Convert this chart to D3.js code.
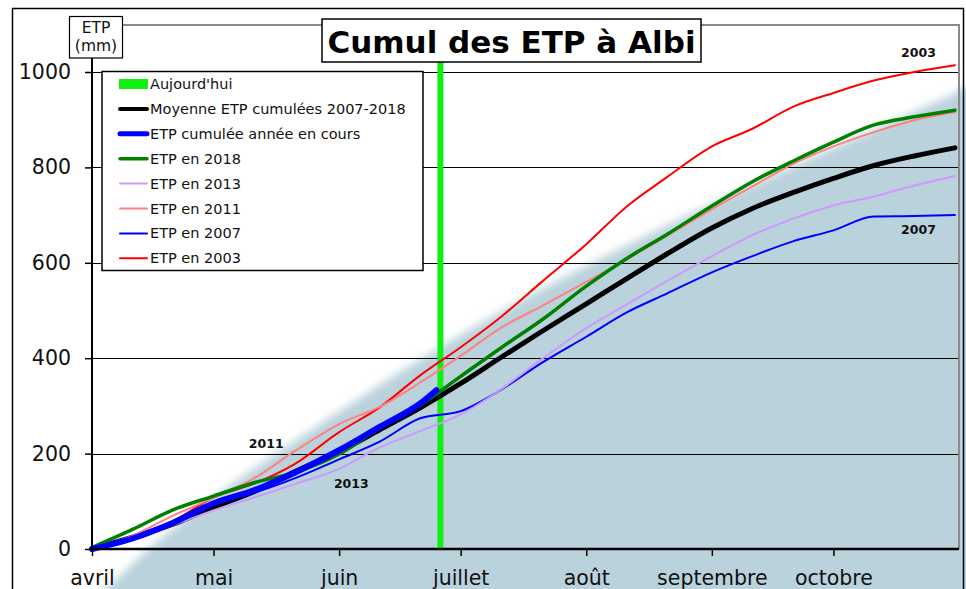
<!DOCTYPE html>
<html><head><meta charset="utf-8">
<script src="https://cdn.jsdelivr.net/npm/d3@7"></script>
<style>
body{margin:0;background:#fff}
svg{display:block;font-family:"DejaVu Sans",Verdana,sans-serif}
</style>
</head><body>
<svg id="c" width="966" height="589"></svg>
<script>
// ---------- data ----------
const dates = ["04-01","04-11","04-21","05-01","05-11","05-21","06-01","06-11","06-21","07-01","07-11",
               "07-21","08-01","08-11","08-21","09-01","09-11","09-21","10-01","10-11","10-21","10-31"];
const moyenne  = [0,25,52,88,120,162,204,250,296,347,402,456,514,567,619,673,714,747,777,804,824,841];
const etp2018  = [3,41,82,111,139,160,199,254,302,362,422,480,551,609,660,719,770,813,853,889,906,920];
const etp2013  = [0,20,50,81,108,136,168,213,247,282,335,398,463,513,562,614,658,692,720,739,762,782];
const etp2011  = [0,28,70,107,148,205,262,298,349,405,464,509,560,607,657,712,760,807,844,874,899,916];
const etp2007  = [0,27,58,97,118,148,188,225,274,289,334,390,445,496,536,580,614,645,668,697,698,700];
const etp2003  = [0,20,58,108,137,178,245,297,364,423,487,560,639,718,780,844,881,927,956,982,1000,1014];
const courDates = ["04-01","04-11","04-21","05-01","05-11","05-21","06-01","06-11","06-21","06-25"];
const courante = [0,22,55,96,123,160,207,256,305,333];
const aujourdhui = "06-26";

const monthTicks  = ["04-01","05-01","06-01","07-01","08-01","09-01","10-01"];
const monthLabels = ["avril","mai","juin","juillet","août","septembre","octobre"];
const yTicks = [0,200,400,600,800,1000];

const legendLabels = ["Aujourd'hui","Moyenne ETP cumulées 2007-2018","ETP cumulée année en cours",
  "ETP en 2018","ETP en 2013","ETP en 2011","ETP en 2007","ETP en 2003"];

const annotLabels = ["2003","2007","2011","2013"];
const annotDates  = ["10-22","10-22","05-14","06-04"];
const annotValues = [1031,660,212,128];

// decorative background envelope (date, value)
const backDates  = ["03-28","04-03","04-15","05-30","07-06","08-17","09-26","11-03","11-12"];
const backValues = [-125,-92,0,277,474,662,822,966,1000];

// ---------- styles ----------
const st = {
  moyenne:{color:"#000000",w:5},
  courante:{color:"#0000ff",w:6},
  e2018:{color:"#008000",w:3.5},
  e2013:{color:"#cc99ff",w:2},
  e2011:{color:"#ff8080",w:2},
  e2007:{color:"#0000ff",w:2},
  e2003:{color:"#ff0000",w:2},
  today:"#10f010",
  back:"#bad2dc"
};

// ---------- scales ----------
const P = d => d3.timeParse("%Y-%m-%d")("2019-" + d);
const x = d3.scaleTime().domain([P("04-01"), P("11-01")]).range([92, 959]);
const y = d3.scaleLinear().domain([0, 1100]).range([549, 24.3]);

const svg = d3.select("#c");
const defs = svg.append("defs");
const f = defs.append("filter").attr("id","blur").attr("filterUnits","userSpaceOnUse")
  .attr("x",-100).attr("y",-100).attr("width",1200).attr("height",900);
f.append("feGaussianBlur").attr("stdDeviation",4);

// background
const backPts = backDates.map((d,i)=>({d:P(d),v:backValues[i]}));
svg.append("path").datum(backPts)
  .attr("d", d3.area().x(p=>x(p.d)).y0(y(-200)).y1(p=>y(p.v)).curve(d3.curveMonotoneX))
  .attr("fill", st.back).attr("filter","url(#blur)");
svg.append("rect").attr("x", x(P("11-01"))).attr("y", y(960)).attr("width", 20).attr("height", 600).attr("fill", st.back).attr("filter","url(#blur)");

// outer frame
svg.append("path").attr("d","M12.5,620V8.5H963.5V620").attr("fill","none").attr("stroke","#000").attr("stroke-width",1.5);

// gridlines
svg.append("g").selectAll("line").data(yTicks.filter(v=>v>0)).join("line")
  .attr("x1", x.range()[0]).attr("x2", x.range()[1])
  .attr("y1", v=>Math.round(y(v))+0.5).attr("y2", v=>Math.round(y(v))+0.5)
  .attr("stroke","#000").attr("stroke-width",1.2);

// plot border (gray top/right)
svg.append("path").attr("d",`M${x.range()[0]},25H959V549`).attr("fill","none").attr("stroke","#8a8a8a").attr("stroke-width",2);

// today line
svg.append("line").attr("x1",x(P(aujourdhui))).attr("x2",x(P(aujourdhui)))
  .attr("y1",25).attr("y2",549).attr("stroke",st.today).attr("stroke-width",6);

// series
const line = d3.line().x(p=>x(p.d)).y(p=>y(p.v)).curve(d3.curveMonotoneX);
function drawSeries(ds, vals, s){
  const pts = ds.map((d,i)=>({d:P(d),v:vals[i]}));
  svg.append("path").datum(pts).attr("d", line).attr("fill","none")
    .attr("stroke", s.color).attr("stroke-width", s.w).attr("stroke-linejoin","round").attr("stroke-linecap","round");
}
drawSeries(dates, moyenne, st.moyenne);
drawSeries(dates, etp2003, st.e2003);
drawSeries(dates, etp2007, st.e2007);
drawSeries(dates, etp2013, st.e2013);
drawSeries(dates, etp2011, st.e2011);
drawSeries(dates, etp2018, st.e2018);
drawSeries(courDates, courante, st.courante);

// axes
const yAxis = d3.axisLeft(y).tickValues(yTicks).tickFormat(d3.format("d")).tickSize(7).tickPadding(14);
const gy = svg.append("g").attr("transform","translate(92,0)").call(yAxis);
gy.select(".domain").remove();
gy.selectAll(".tick line").attr("stroke","#000").attr("stroke-width",1.5);
gy.selectAll("text").attr("font-size","20.5px").attr("font-family","DejaVu Sans, sans-serif").attr("fill","#111");

const xAxis = d3.axisBottom(x).tickValues(monthTicks.map(P)).tickFormat((d,i)=>monthLabels[i]).tickSize(7).tickPadding(14);
const gx = svg.append("g").attr("transform","translate(0,549)").call(xAxis);
gx.select(".domain").remove();
gx.selectAll(".tick line").attr("stroke","#000").attr("stroke-width",1.5);
gx.selectAll("text").attr("font-size","20.5px").attr("font-family","DejaVu Sans, sans-serif").attr("fill","#111");

svg.append("line").attr("x1",92).attr("x2",92).attr("y1",58).attr("y2",550).attr("stroke","#000").attr("stroke-width",2);
svg.append("line").attr("x1",91).attr("x2",959).attr("y1",549).attr("y2",549).attr("stroke","#000").attr("stroke-width",2.5);

// legend
const lg = svg.append("g");
lg.append("rect").attr("x",102).attr("y",71.5).attr("width",321).attr("height",199)
  .attr("fill","#fff").attr("stroke","#000").attr("stroke-width",1.5);
const legStyles = [null, st.moyenne, st.courante, st.e2018, st.e2013, st.e2011, st.e2007, st.e2003];
const legW = [0,4,5,3.5,2,2,2,2];
legendLabels.forEach((lab,i)=>{
  const cy = 84 + i*24.9;
  if(i===0){
    lg.append("rect").attr("x",119).attr("y",cy-5).attr("width",29).attr("height",10).attr("fill",st.today);
  } else {
    lg.append("line").attr("x1",120).attr("x2",147).attr("y1",cy).attr("y2",cy)
      .attr("stroke",legStyles[i].color).attr("stroke-width",legW[i]).attr("stroke-linecap","round");
  }
  lg.append("text").attr("x",150).attr("y",cy).attr("dy","0.35em").attr("font-size","14.5px").attr("fill","#111").text(lab);
});

// title
svg.append("rect").attr("x",322).attr("y",19).attr("width",379).attr("height",43).attr("fill","#fff").attr("stroke","#000").attr("stroke-width",1.5);
svg.append("text").attr("x",511.5).attr("y",53).attr("text-anchor","middle").attr("font-size","31px").attr("font-weight","bold").attr("fill","#000").text("Cumul des ETP à Albi");

// ETP (mm) box
svg.append("rect").attr("x",69.5).attr("y",16.5).attr("width",53).attr("height",41.5).attr("fill","#fff").attr("stroke","#000").attr("stroke-width",1.2);
svg.append("text").attr("x",96).attr("y",33).attr("text-anchor","middle").attr("font-size","15.5px").attr("fill","#111").text("ETP");
svg.append("text").attr("x",96).attr("y",51).attr("text-anchor","middle").attr("font-size","15.5px").attr("fill","#111").text("(mm)");

// annotations
annotLabels.forEach((t,i)=>{
  svg.append("text").attr("x",x(P(annotDates[i]))).attr("y",y(annotValues[i])).attr("text-anchor","middle")
    .attr("font-size","12.5px").attr("font-weight","bold").attr("fill","#111").text(t);
});
</script>
</body></html>
